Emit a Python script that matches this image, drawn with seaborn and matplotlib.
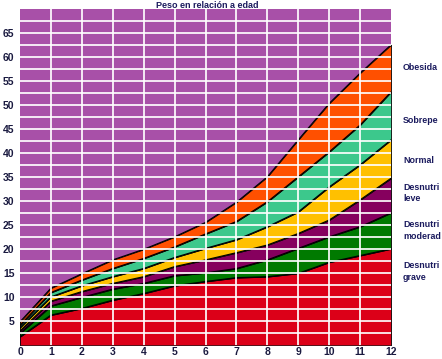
import numpy as np
import pandas as pd
import matplotlib
matplotlib.use("Agg")
import matplotlib.pyplot as plt
import seaborn as sns

# ---- data (kg by age in years) ----
edad = [0, 1, 2, 3, 4, 5, 6, 7, 8, 9, 10, 11, 12]
grave = [1.8, 6.3, 7.7, 9.4, 10.8, 12.4, 13.3, 14.1, 14.3, 15.0, 17.3, 18.7, 20.1]
moderada = [2.5, 8.2, 10.0, 11.7, 12.9, 14.5, 15.1, 16.0, 17.8, 20.2, 22.6, 24.7, 27.6]
leve = [3.0, 9.2, 11.2, 12.9, 14.3, 16.4, 17.8, 19.3, 20.9, 23.3, 26.1, 30.3, 34.8]
normal = [3.7, 10.1, 12.4, 14.3, 16.0, 18.3, 20.2, 22.0, 24.7, 27.8, 33.0, 37.6, 42.8]
sobrepeso = [4.2, 11.0, 13.6, 16.0, 18.1, 20.5, 23.2, 25.8, 29.9, 35.1, 40.3, 45.9, 52.8]
obesidad = [4.9, 11.9, 14.9, 17.8, 20.0, 22.6, 25.6, 29.8, 35.1, 42.8, 50.4, 56.7, 62.6]

categorias = ["grave", "moderada", "leve", "normal", "sobrepeso", "obesidad"]
# labels as they appear (cut by the picture edge) in the reference
etiquetas = ["Desnutri\ngrave", "Desnutri\nmoderad", "Desnutri\nleve",
             "Normal", "Sobrepe", "Obesida"]
series = [grave, moderada, leve, normal, sobrepeso, obesidad]
colores = ["#DC0018", "#007A00", "#86005E", "#FFC000", "#3CC88C", "#FF5000"]
label_y_px = [271.3, 230.3, 193.0, 160.7, 120.0, 68.0]
y_ticks = [5, 10, 15, 20, 25, 30, 35, 40, 45, 50, 55, 60, 65]
titulo = "Peso en relación a edad"

sns.set_theme(style="white")
plt.rcParams["font.family"] = ["Liberation Sans", "DejaVu Sans"]

W, H = 442, 359
fig = plt.figure(figsize=(W / 100, H / 100), dpi=100)
ax = fig.add_axes([20 / W, 1 - 345.3 / H, 371 / W, 336 / H])
ax.set_facecolor("#A850A8")

df = pd.DataFrame({"edad": np.tile(edad, len(series)),
                   "peso": np.concatenate(series),
                   "cat": np.repeat(categorias, len(edad))})

prev = np.zeros(len(edad))
for vals, col in zip(series, colores):
    v = np.array(vals)
    ax.fill_between(edad, prev, v, facecolor=col, edgecolor="black",
                    linewidth=0.6, zorder=2)
    prev = v

sns.lineplot(data=df, x="edad", y="peso", hue="cat", palette=["black"] * 6,
             legend=False, linewidth=0.8, ax=ax, zorder=3)

ax.set_xlim(0, 12)
ax.set_ylim(0, 70)
for yv in np.arange(2.5, 70, 2.5):
    ax.axhline(yv, color="white", lw=1.3, zorder=4, alpha=0.95)
for xv in range(1, 12):
    ax.axvline(xv, color="white", lw=1.3, zorder=4, alpha=0.95)

ax.set_xticks(edad)
ax.set_xticklabels([str(e) for e in edad])
ax.set_yticks(y_ticks)
ax.set_yticklabels([str(t) for t in y_ticks])
ax.tick_params(axis="both", length=0, labelsize=7.5, colors="#1a1a40")
ax.tick_params(axis="x", pad=1.5)
ax.tick_params(axis="y", pad=4)
for lab in ax.get_xticklabels() + ax.get_yticklabels():
    lab.set_fontweight("bold")
ax.set_xlabel("")
ax.set_ylabel("")
for s in ax.spines.values():
    s.set_visible(False)

for lab, ypx in zip(etiquetas, label_y_px):
    fig.text(403 / W, 1 - ypx / H, lab, ha="left", va="center", fontsize=6.4,
             fontweight="bold", color="#1b1b5e", linespacing=1.35)

fig.text(207 / W, 1 - 0.5 / H, titulo, ha="center", va="top", fontsize=6.5,
         fontweight="bold", color="#1b1b5e")

fig.savefig("out.png", dpi=100, facecolor="white")
